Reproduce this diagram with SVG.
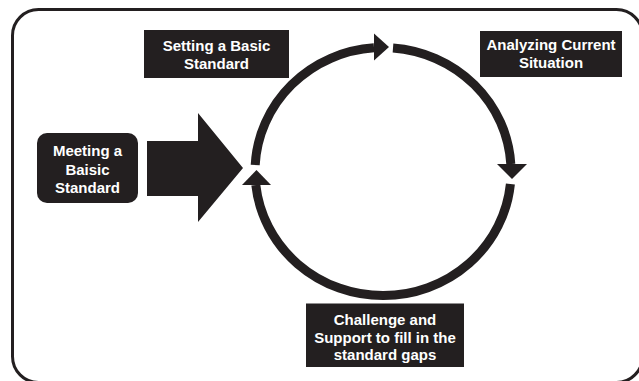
<svg xmlns="http://www.w3.org/2000/svg" width="639" height="381" viewBox="0 0 639 381">
  <style>
    .box { fill: #231f20; }
    .lbl { fill: #ffffff; font-family: "Liberation Sans", Arial, sans-serif; font-weight: bold; font-size: 15px; text-anchor: middle; }
    .ring { fill: none; stroke: #231f20; stroke-width: 9; }
    .head { fill: #231f20; }
  </style>
  <rect x="0" y="0" width="639" height="381" fill="#ffffff"/>
  <rect id="frame" x="12.5" y="9.5" width="630" height="373" rx="26" ry="26" fill="none" stroke="#231f20" stroke-width="3"/>

  <g id="connectors">
    <path class="ring" d="M255.2,165 A128,124 0 0 1 374,47.8"/>
    <path class="ring" d="M393,47.9 A128,124 0 0 1 510.8,164"/>
    <path class="ring" d="M510.4,184 A128,124 0 0 1 255.8,185"/>
    <polygon class="head" points="374,33.5 389,47 374,60.5"/>
    <polygon class="head" points="497,164 527,164 512,179"/>
    <polygon class="head" points="242,185 271,185 256.5,170"/>
    <polygon class="head" points="147,141 198,141 198,113 243,168 198,222 198,196 147,196"/>
  </g>

  <g id="node-setting">
    <rect class="box" x="144" y="30" width="145" height="48"/>
    <text class="lbl" x="216.5" y="51">Setting a Basic</text>
    <text class="lbl" x="216.5" y="68.5">Standard</text>
  </g>

  <g id="node-analyzing">
    <rect class="box" x="480" y="31" width="142" height="46"/>
    <text class="lbl" x="551" y="50">Analyzing Current</text>
    <text class="lbl" x="551" y="68">Situation</text>
  </g>

  <g id="node-meeting">
    <rect class="box" x="37" y="133" width="101" height="70" rx="10" ry="10"/>
    <text class="lbl" x="87.5" y="156">Meeting a</text>
    <text class="lbl" x="87.5" y="174.5">Baisic</text>
    <text class="lbl" x="87.5" y="192.5">Standard</text>
  </g>

  <g id="node-challenge">
    <rect class="box" x="306" y="303.5" width="158" height="63.5"/>
    <text class="lbl" x="385" y="325">Challenge and</text>
    <text class="lbl" x="385" y="342.5">Support to fill in the</text>
    <text class="lbl" x="385" y="359.5">standard gaps</text>
  </g>
</svg>
